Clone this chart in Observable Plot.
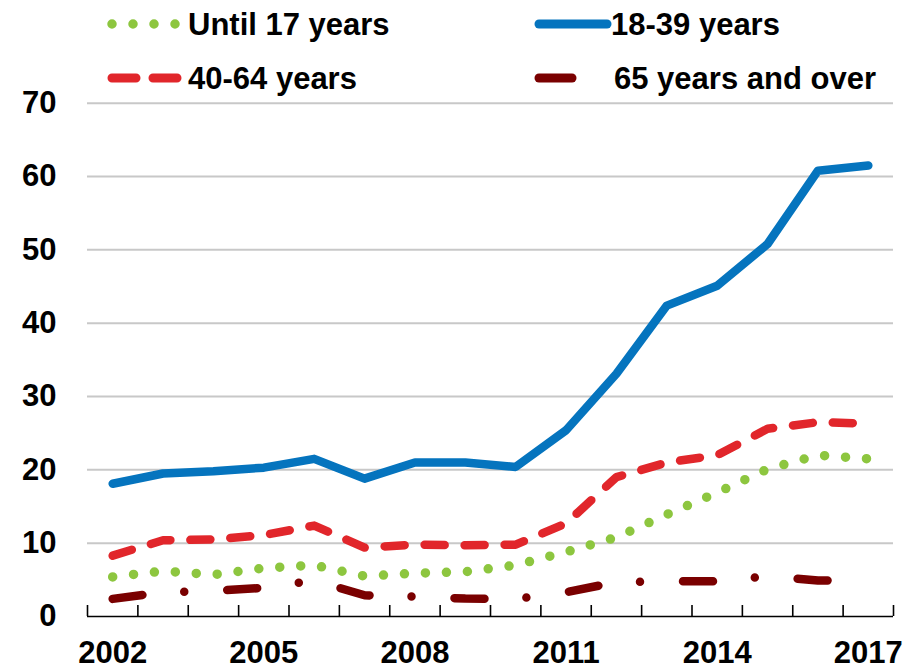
<!DOCTYPE html>
<html><head><meta charset="utf-8">
<script src="https://cdn.jsdelivr.net/npm/d3@7"></script>
<script src="https://cdn.jsdelivr.net/npm/@observablehq/plot@0.6"></script>
<style>
body{margin:0;background:#fff;font-family:"Liberation Sans",Arial,sans-serif;}
#legend{display:block;overflow:visible}
#chart svg{display:block}
</style></head><body>
<div id="chart"></div>
<script>
// ---- data ----
const years = [2002,2003,2004,2005,2006,2007,2008,2009,2010,2011,2012,2013,2014,2015,2016,2017];
const until17  = [5.4, 6.2, 5.7, 6.6, 7.0, 5.5, 5.9, 6.1, 7.0, 8.8, 10.8, 13.9, 16.9, 20.1, 22.0, 21.5];
const age18_39 = [18.1, 19.5, 19.8, 20.3, 21.5, 18.8, 21.0, 21.0, 20.4, 25.4, 33.1, 42.4, 45.1, 50.8, 60.8, 61.5];
const age40_64 = [8.3, 10.4, 10.5, 11.1, 12.4, 9.4, 9.8, 9.7, 9.8, 12.7, 19.0, 21.0, 22.0, 25.6, 26.5, 26.3];
const age65up  = [2.4, 3.3, 3.5, 3.9, 4.9, 2.9, 2.7, 2.45, 2.4, 3.3, 4.7, 4.8, 4.8, 5.5, 4.9, 5.0];
const seriesNames = ["Until 17 years", "18-39 years", "40-64 years", "65 years and over"];
const yTicks = [0, 10, 20, 30, 40, 50, 60, 70];
const xLabelTicks = [2002, 2005, 2008, 2011, 2014, 2017];

// ---- styles ----
const seriesValues = [until17, age18_39, age40_64, age65up];
const colors = ["#8DC63F", "#0574BE", "#E1262B", "#7A0000"];
const widths = [9.5, 8.5, 8.5, 8.5];
const dashes = ["0 21", null, "20 20", "30 42 0 43"];
const FONT = '"Liberation Sans", Arial, sans-serif';

const rows = seriesNames.flatMap((name, s) =>
  years.map((year, i) => ({series: name, year, value: seriesValues[s][i]})));
const bounds = years.map(y => y - 0.5).concat([years[years.length - 1] + 0.5]);

// ---- legend (separate svg above the chart) ----
const legendLayout = [
  {x1: 112, x2: 182, tx: 188, cy: 24},
  {x1: 539, x2: 607, tx: 611, cy: 24},
  {x1: 112, x2: 180, tx: 188, cy: 78},
  {x1: 539, x2: 572, tx: 614, cy: 78}
];
const legendDashes = ["0 21", null, "24 17", null];
const chart = document.getElementById("chart");
const leg = d3.select(chart).append("svg").attr("id", "legend")
  .attr("width", 913).attr("height", 80);
seriesNames.forEach((name, s) => {
  const L = legendLayout[s];
  leg.append("line").attr("x1", L.x1).attr("x2", L.x2).attr("y1", L.cy).attr("y2", L.cy)
    .attr("stroke", colors[s]).attr("stroke-width", s === 0 ? 9.5 : 9)
    .attr("stroke-linecap", "round")
    .attr("stroke-dasharray", legendDashes[s]);
  leg.append("text").attr("x", L.tx).attr("y", L.cy + 11)
    .attr("font-family", FONT).attr("font-weight", "bold").attr("font-size", 31)
    .attr("fill", "#000").text(name);
});

// ---- plot ----
const H = 590, MT = 22.7, MB = 54;
const innerH = H - MT - MB;
const plot = Plot.plot({
  width: 913,
  height: H,
  marginLeft: 87,
  marginRight: 20,
  marginTop: MT,
  marginBottom: MB,
  style: {fontFamily: FONT, fontSize: "31px", fontWeight: "bold", color: "#000", background: "#fff"},
  x: {type: "linear", domain: [bounds[0], bounds[bounds.length - 1]], label: null},
  y: {domain: [0, 70], label: null},
  marks: [
    Plot.gridY(yTicks.filter(v => v > 0), {stroke: "#c8c8c8", strokeOpacity: 1, strokeWidth: 2}),
    Plot.ruleY([0], {stroke: "#000", strokeWidth: 1.6}),
    Plot.tickX(bounds, {x: d => d, stroke: "#000", strokeWidth: 1.6, insetTop: innerH - 11}),
    ...seriesNames.map((name, s) => Plot.line(rows.filter(r => r.series === name), {
      x: "year", y: "value", stroke: colors[s], strokeWidth: widths[s],
      strokeDasharray: dashes[s], strokeLinecap: "round", strokeLinejoin: "round"
    })),
    Plot.axisY(yTicks, {tickSize: 0, tickPadding: 31, label: null}),
    Plot.axisX(xLabelTicks, {tickSize: 0, tickPadding: 24, label: null, tickFormat: d => String(d)})
  ]
});
chart.appendChild(plot);
</script>
</body></html>
